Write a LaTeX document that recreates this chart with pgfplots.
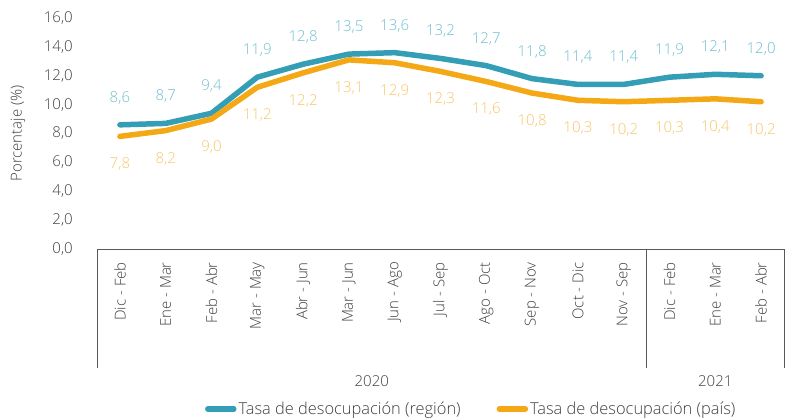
\documentclass[border=0pt]{standalone}
\usepackage{pgfplots}
\pgfplotsset{compat=1.18}
\usepackage{pgfplotstable}
\usepackage{fontspec}
\IfFontExistsTF{Open Sans Light}{\setmainfont{Open Sans Light}}{\setmainfont{Open Sans}}
\definecolor{tealline}{HTML}{339EB6}
\definecolor{teallab}{HTML}{6DBDD0}
\definecolor{orline}{HTML}{F5A815}
\definecolor{orlab}{HTML}{F8C566}
\definecolor{txt}{HTML}{404040}
\definecolor{axl}{HTML}{595959}
\newcommand{\fs}{\fontsize{15bp}{18bp}\selectfont}
\newcommand{\fl}{\fontsize{16.4bp}{19bp}\selectfont}
\pgfplotstableread{
x y
0 8.6
1 8.7
2 9.4
3 11.9
4 12.8
5 13.5
6 13.6
7 13.2
8 12.7
9 11.8
10 11.4
11 11.4
12 11.9
13 12.1
14 12.0
}\region
\pgfplotstableread{
x y
0 7.8
1 8.2
2 9.0
3 11.2
4 12.2
5 13.1
6 12.9
7 12.3
8 11.6
9 10.8
10 10.3
11 10.2
12 10.3
13 10.4
14 10.2
}\pais
\begin{document}
\begin{tikzpicture}
\path[use as bounding box] (0,0) rectangle (801bp,420bp);
\begin{axis}[
  at={(97bp,171bp)}, anchor=south west,
  scale only axis, width=687bp, height=231bp,
  xmin=-0.5, xmax=14.5, ymin=0, ymax=16,
  clip=false,
  axis line style={draw=none},
  tick style={draw=none},
  xtick={0,...,14},
  xticklabels={Dic - Feb,Ene - Mar,Feb - Abr,Mar - May,Abr - Jun,Mar - Jun,Jun - Ago,Jul - Sep,Ago - Oct,Sep - Nov,Oct - Dic,Nov - Sep,Dic - Feb,Ene - Mar,Feb - Abr},
  xticklabel style={yshift=-13bp, rotate=90, anchor=east, inner sep=0pt, font=\fs, text=txt},
  ytick={0,2,...,16},
  yticklabel={\pgfmathprintnumber[fixed,fixed zerofill,precision=1,use comma,assume math mode=true]{\tick}},
  yticklabel style={anchor=east, inner sep=0pt, xshift=-24bp, font=\fs, text=txt},
  ylabel={Porcentaje (\%)},
  ylabel style={at={(rel axis cs:-0.115,0.5)}, anchor=center, font=\fs, text=txt},
  nodes near coords={\pgfmathprintnumber[fixed,fixed zerofill,precision=1,use comma,assume math mode=true]{\pgfplotspointmeta}},
  legend columns=2,
  legend style={at={(rel axis cs:0.157,0)}, anchor=west, yshift=-160bp, draw=none, fill=none, font=\fl, text=txt, inner sep=0pt,
    /tikz/every even column/.append style={column sep=34bp}},
  legend cell align=left,
]
\draw[axl, line width=0.8bp] (axis cs:-0.5,0) -- (axis cs:14.5,0);
\draw[axl, line width=0.8bp] (axis cs:-0.5,0) -- ([yshift=-119bp]axis cs:-0.5,0);
\draw[axl, line width=0.8bp] (axis cs:11.5,0) -- ([yshift=-119bp]axis cs:11.5,0);
\draw[axl, line width=0.8bp] (axis cs:14.5,0) -- ([yshift=-119bp]axis cs:14.5,0);
\node[font=\fs, text=txt] at ([yshift=-132bp]axis cs:5.5,0) {2020};
\node[font=\fs, text=txt] at ([yshift=-132bp]axis cs:13,0) {2021};
\addplot[tealline, line width=5.5bp, line join=round, line cap=round,
  every node near coord/.style={anchor=center, yshift=27bp, font=\fs, text=teallab},
  legend image code/.code={\draw[tealline, line width=5.5bp, line cap=round] (0bp,0bp) -- (26bp,0bp);}]
  table[x=x,y=y] {\region};
\addlegendentry{Tasa de desocupación (región)}
\addplot[orline, line width=5.5bp, line join=round, line cap=round,
  every node near coord/.style={anchor=center, yshift=-28bp, font=\fs, text=orlab},
  legend image code/.code={\draw[orline, line width=5.5bp, line cap=round] (0bp,0bp) -- (26bp,0bp);}]
  table[x=x,y=y] {\pais};
\addlegendentry{Tasa de desocupación (país)}
\end{axis}
\end{tikzpicture}
\end{document}
